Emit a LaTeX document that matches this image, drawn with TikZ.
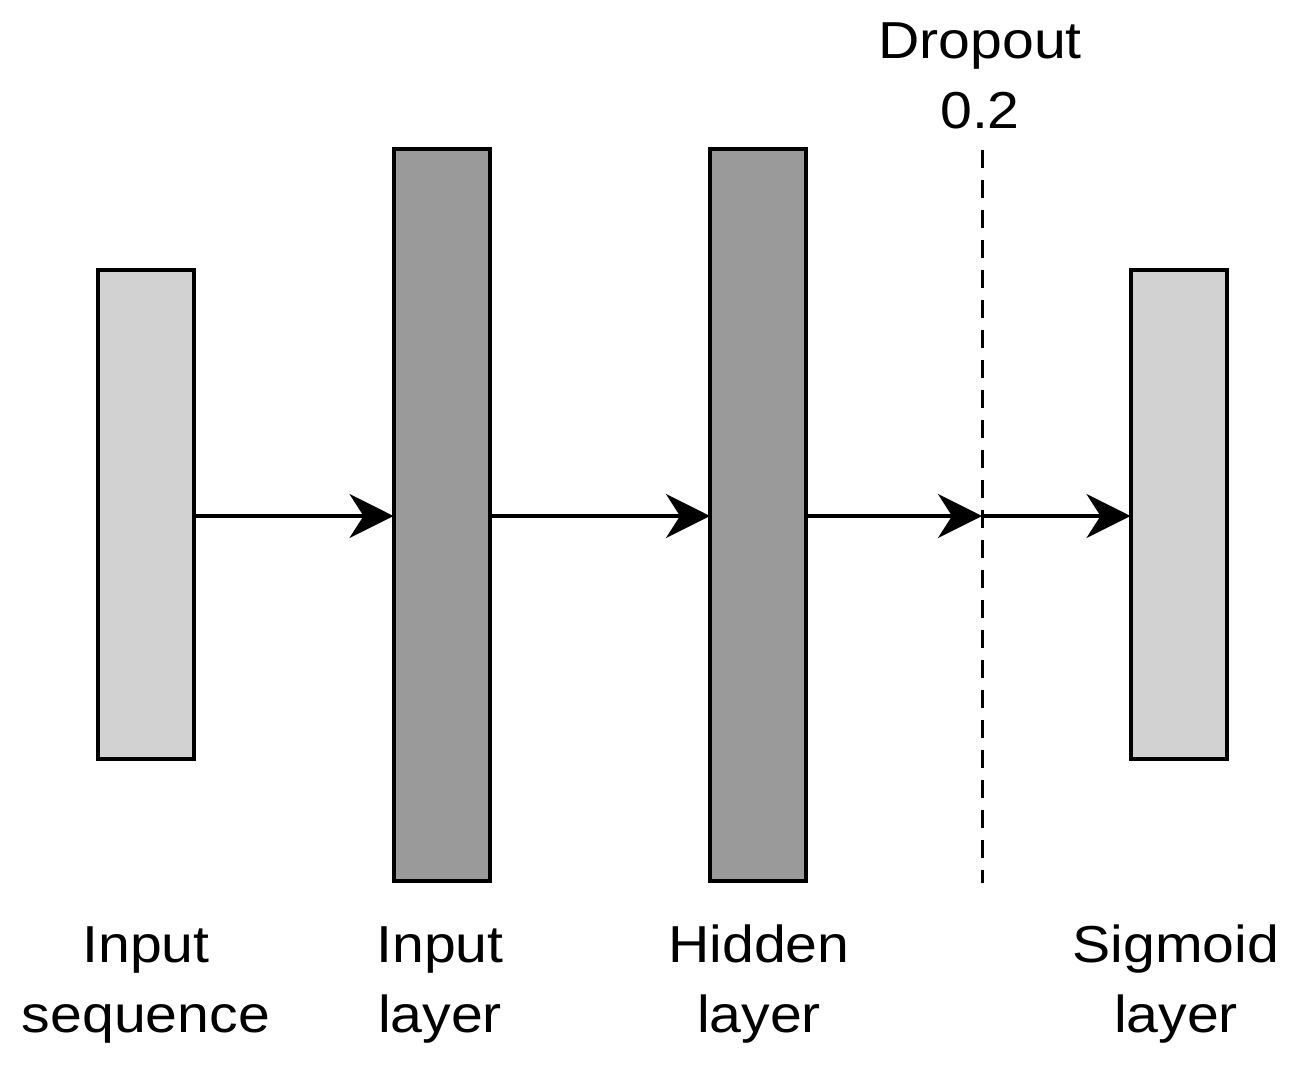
\documentclass[tikz,border=0pt]{standalone}
\usepackage{fontspec}
\setmainfont{Liberation Sans}[FakeStretch=1.1]
\usetikzlibrary{arrows.meta}
\definecolor{lightfill}{HTML}{D2D2D2}
\definecolor{darkfill}{HTML}{9A9A9A}
\begin{document}
\begin{tikzpicture}[x=1pt,y=-1pt,
  layerbox/.style={draw=black, line width=4pt, minimum width=96pt, inner sep=0pt, outer sep=0pt},
  lightbox/.style={layerbox, fill=lightfill, minimum height=489pt},
  darkbox/.style={layerbox, fill=darkfill, minimum height=732pt},
  conn/.style={line width=3.5pt, -{Stealth[length=44pt,width=44pt,inset=14pt]}},
  lbl/.style={font=\fontsize{52}{70}\selectfont, align=center, anchor=base, inner sep=0pt},
  dropline/.style={line width=3pt, dash pattern=on 18pt off 12pt}
]
\useasboundingbox (0,0) rectangle (1302,1080);
\node[lightbox] (seq) at (146,514.5) {};
\node[darkbox] (inl) at (441.5,515) {};
\node[darkbox] (hid) at (758,515) {};
\node[lightbox] (sig) at (1178.5,514.5) {};
\coordinate (dtop) at (982,150);
\coordinate (dbot) at (982,883);
\coordinate (drop) at (982,516);
\draw[dropline] (dtop) -- (dbot);
\draw[conn] (seq.east |- drop) -- (inl.west |- drop);
\draw[conn] (inl.east |- drop) -- (hid.west |- drop);
\draw[conn] (hid.east |- drop) -- (drop);
\draw[conn] (drop) -- (sig.west |- drop);
\node[lbl] (ldrop) at (980,128) {Dropout\\0.2};
\node[lbl] (lseq) at (146,1032) {Input\\sequence};
\node[lbl] (linl) at (440,1032) {Input\\layer};
\node[lbl] (lhid) at (759,1032) {Hidden\\layer};
\node[lbl] (lsig) at (1176,1032) {Sigmoid\\layer};
\end{tikzpicture}
\end{document}
